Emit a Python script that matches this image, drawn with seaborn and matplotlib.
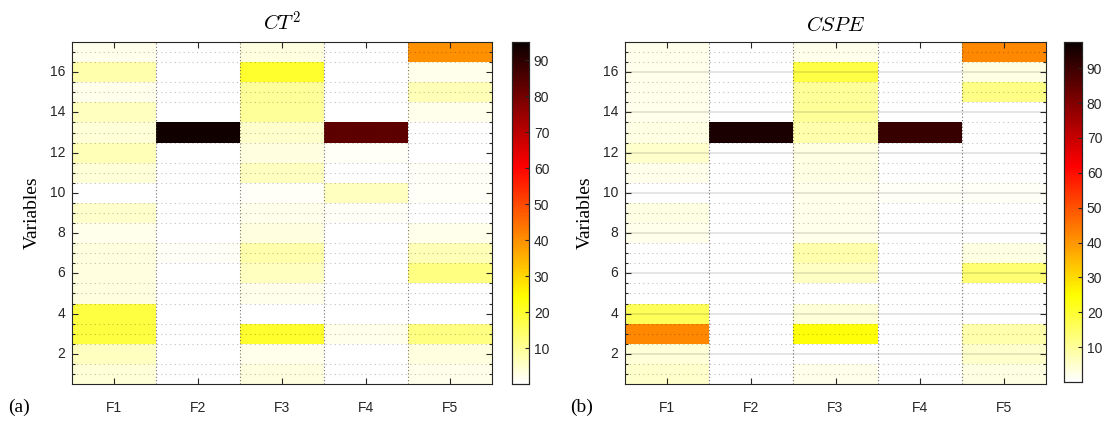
import numpy as np
import pandas as pd
import matplotlib
matplotlib.use("Agg")
import matplotlib.pyplot as plt
from matplotlib.ticker import FixedLocator
import seaborn as sns

### Data: contribution of each variable (rows 1..17) for each fault (F1..F5)

faults = ["F1", "F2", "F3", "F4", "F5"]
variables = list(range(1, 18))

# CT^2 contributions, variable 1 -> 17
ct2_f1 = [4, 6, 18, 18, 3, 3, 3, 2, 5, 0, 4, 7, 4, 6, 2, 8, 2]
ct2_f2 = [0, 0, 0, 0, 0, 0, 1, 0, 0, 0, 0, 0, 94, 0, 0, 0, 0]
ct2_f3 = [3, 2, 20, 0, 2, 6, 8, 3, 2, 1, 6, 3, 5, 10, 10, 20, 3]
ct2_f4 = [0, 0, 2, 0, 0, 0, 0, 0, 1, 6, 0, 1, 83, 0, 0, 0, 0]
ct2_f5 = [2, 3, 12, 0, 0, 12, 7, 2, 0, 1, 1, 0, 0, 2, 7, 2, 40]

# CSPE contributions, variable 1 -> 17
cspe_f1 = [5, 4, 42, 16, 0, 0, 0, 2, 3, 0, 2, 5, 3, 2, 2, 2, 2]
cspe_f2 = [0, 0, 0, 0, 0, 0, 0, 0, 0, 0, 0, 0, 95, 0, 0, 0, 0]
cspe_f3 = [2, 0, 24, 4, 0, 6, 8, 2, 2, 2, 3, 3, 8, 10, 10, 18, 2]
cspe_f4 = [0, 0, 0, 0, 0, 0, 0, 0, 0, 1, 0, 0, 91, 0, 0, 0, 0]
cspe_f5 = [3, 5, 8, 0, 0, 14, 3, 0, 0, 1, 0, 0, 0, 0, 12, 3, 42]

panels = [
    ("$CT^2$", [ct2_f1, ct2_f2, ct2_f3, ct2_f4, ct2_f5], 95, "(a)", False),
    ("$CSPE$", [cspe_f1, cspe_f2, cspe_f3, cspe_f4, cspe_f5], 97.5, "(b)", True),
]

plt.rcParams["mathtext.fontset"] = "cm"
plt.rcParams["font.family"] = ["Liberation Sans", "DejaVu Sans"]

fig = plt.figure(figsize=(11.06, 4.21), dpi=100)
W, H = 1106, 421

# pixel boxes: (left, top, right, bottom)
ax_boxes = [(72, 42, 492, 384), (625, 42, 1046, 384)]
cb_boxes = [(512, 42, 529, 384), (1064, 42, 1082, 382)]
lab_x = [8, 570]


def box_to_rect(b):
    l, t, r, bt = b
    return [l / W, 1 - bt / H, (r - l) / W, (bt - t) / H]


for i, (title, cols, vmax, tag, major_grid) in enumerate(panels):
    ax = fig.add_axes(box_to_rect(ax_boxes[i]))
    cax = fig.add_axes(box_to_rect(cb_boxes[i]))

    df = pd.DataFrame(np.array(cols).T, index=variables, columns=faults)

    sns.heatmap(df, ax=ax, cbar_ax=cax, cmap="hot_r", vmin=0, vmax=vmax, linewidths=0)
    ax.invert_yaxis()

    # y axis: matlab-like numbering, 1 at bottom
    ax.yaxis.set_major_locator(FixedLocator([v - 0.5 for v in range(2, 17, 2)]))
    ax.set_yticklabels([str(v) for v in range(2, 17, 2)], rotation=0)
    ax.yaxis.set_minor_locator(FixedLocator([k * 0.5 for k in range(1, 34)]))
    ax.xaxis.set_major_locator(FixedLocator([0.5, 1.5, 2.5, 3.5, 4.5]))
    ax.set_xticklabels(faults, rotation=0)
    ax.xaxis.set_minor_locator(FixedLocator([1, 2, 3, 4]))

    ax.tick_params(which="both", direction="in", top=True, right=True,
                   labelsize=10, colors="#262626", length=4, width=0.8)
    ax.tick_params(which="minor", length=2.5)
    ax.tick_params(axis="x", which="minor", length=0)
    ax.tick_params(axis="x", which="major", pad=12)
    ax.tick_params(axis="y", which="major", pad=5)

    ax.set_axisbelow(False)
    if major_grid:
        ax.grid(axis="y", which="major", color="black", alpha=0.12, linestyle="-", linewidth=1.2)
    ax.grid(axis="y", which="minor", color="black", alpha=0.25, linestyle=(0, (1, 3)), linewidth=0.8)
    ax.grid(axis="x", which="minor", color="#505050", alpha=0.8, linestyle=(0, (1, 2)), linewidth=0.8)

    for s in ax.spines.values():
        s.set_visible(True)
        s.set_color("#262626")
        s.set_linewidth(0.8)
        s.set_zorder(5)

    ax.set_xlabel("")
    ax.set_ylabel("Variables", family=["Liberation Serif", "DejaVu Serif"], fontsize=14, labelpad=6)
    ax.set_title(title, fontsize=15, pad=8)

    # colorbar
    cax.yaxis.set_major_locator(FixedLocator(list(range(10, 91, 10))))
    cax.tick_params(direction="in", labelsize=10, colors="#262626", length=3, width=0.8)
    for s in cax.spines.values():
        s.set_visible(True)
        s.set_color("#262626")
        s.set_linewidth(0.8)

    fig.text(lab_x[i] / W, 1 - 407 / H, tag, family=["Liberation Serif", "DejaVu Serif"],
             fontsize=14, va="center", ha="left")

fig.savefig("out.png", dpi=100)
